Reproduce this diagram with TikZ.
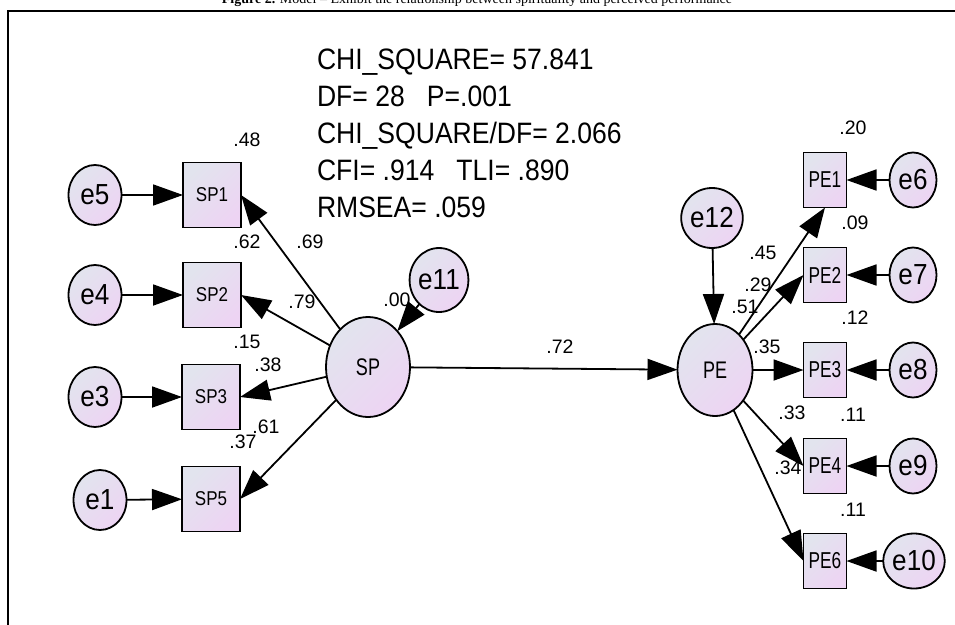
\documentclass[tikz,border=0pt]{standalone}
\usepackage{fontspec}
\setmainfont{Liberation Sans}
\newfontfamily\amos[FakeStretch=0.9]{Liberation Sans}
\newfontfamily\amosb[FakeStretch=0.85]{Liberation Sans}
\newfontfamily\amosn[FakeStretch=0.75]{Liberation Sans}
\newfontfamily\titlefont{Liberation Serif}
\usetikzlibrary{arrows.meta,shapes.geometric}
\definecolor{fillA}{RGB}{226,228,238}
\definecolor{fillB}{RGB}{237,212,243}
\tikzset{
  every node/.style={inner sep=0pt, outer sep=0pt},
  obs/.style={draw, line width=1.8pt, minimum width=58pt, minimum height=65pt,
    top color=fillA, bottom color=fillB, shading angle=45,
    font=\amosb\fontsize{20}{20}\selectfont},
  obsr/.style={obs, minimum width=43pt, minimum height=55pt,
    font=\amosn\fontsize{23}{23}\selectfont},
  err/.style={ellipse, draw, line width=1.8pt, minimum width=53pt, minimum height=60pt,
    top color=fillA, bottom color=fillB, shading angle=45,
    font=\amos\fontsize{29}{29}\selectfont},
  errr/.style={err, minimum width=47pt, minimum height=55pt},
  lat/.style={err, font=\amosn\fontsize{24}{24}\selectfont},
  num/.style={font=\fontsize{19.5}{19.5}\selectfont},
  fit/.style={anchor=base west, font=\amos\fontsize{29.5}{29.5}\selectfont},
  arr/.style={line width=1.8pt, -{Triangle[length=30pt,width=21pt]}},
}
\begin{document}
\begin{tikzpicture}[x=1pt,y=-1pt]
\useasboundingbox (0,0) rectangle (955,624);
\clip (0,0) rectangle (955,624);
\fill[white] (0,0) rectangle (955,624);
% title and frame
\node[anchor=base, font=\titlefont\fontsize{14}{14}\selectfont] (title) at (477,3.5)
  {\textbf{Figure 2.} Model – Exhibit the relationship between spirituality and perceived performance};
\draw[line width=2pt] (7.5,700) -- (7.5,11) -- (970,11);
% fit statistics
\node[fit] (fit1) at (317,69) {CHI\_SQUARE= 57.841};
\node[fit] (fit2) at (317,106) {DF= 28\ \ \ P=.001};
\node[fit] (fit3) at (317,143) {CHI\_SQUARE/DF= 2.066};
\node[fit] (fit4) at (317,180) {CFI= .914\ \ \ TLI= .890};
\node[fit] (fit5) at (317,217) {RMSEA= .059};
% left side
\node[obs] (SP1) at (212,195) {SP1};
\node[obs] (SP2) at (212,295) {SP2};
\node[obs] (SP3) at (211,397) {SP3};
\node[obs] (SP5) at (211,499) {SP5};
\node[err] (e5) at (95,195) {e5};
\node[err] (e4) at (95,295) {e4};
\node[err] (e3) at (95,397) {e3};
\node[err] (e1) at (100,500) {e1};
\node[lat, minimum width=84pt, minimum height=100pt] (SP) at (368,367) {SP};
\node[err, minimum width=52pt, minimum height=64pt] (e11) at (439,280) {e11};
% right side
\node[lat, minimum width=75pt, minimum height=92pt] (PE) at (715,370) {PE};
\node[err, minimum width=55pt, minimum height=60pt] (e12) at (712,218) {e12};
\node[obsr] (PE1) at (825,180) {PE1};
\node[obsr] (PE2) at (825,275) {PE2};
\node[obsr] (PE3) at (825,370) {PE3};
\node[obsr] (PE4) at (825,466) {PE4};
\node[obsr] (PE6) at (825,561) {PE6};
\node[errr] (e6) at (913,180) {e6};
\node[errr] (e7) at (913,275) {e7};
\node[errr] (e8) at (913,370) {e8};
\node[errr] (e9) at (913,466) {e9};
\node[errr] (e10) at (914,561) {e10};
% connectors
\draw[arr] (e5) -- (SP1);
\draw[arr] (e4) -- (SP2);
\draw[arr] (e3) -- (SP3);
\draw[arr] (e1) -- (SP5);
\draw[arr] (SP) -- (SP1.east);
\draw[arr] (SP) -- (SP2.east);
\draw[arr] (SP) -- (SP3.east);
\draw[arr] (SP) -- (SP5.east);
\draw[arr] (e11) -- (SP);
\draw[arr] (SP) -- (PE);
\draw[arr] (e12) -- (PE);
\draw[arr] (PE) -- (PE1.south);
\draw[arr] (PE) -- (PE2.west);
\draw[arr] (PE) -- (PE3.west);
\draw[arr] (PE) -- (PE4.west);
\draw[arr] (PE) -- (PE6.west);
\draw[arr] (e6) -- (PE1);
\draw[arr] (e7) -- (PE2);
\draw[arr] (e8) -- (PE3);
\draw[arr] (e9) -- (PE4);
\draw[arr] (e10) -- (PE6);
% estimates
\node[num] (n48) at (247,140) {.48};
\node[num] (n62) at (247,242) {.62};
\node[num] (n69) at (310,242) {.69};
\node[num] (n79) at (302,302) {.79};
\node[num] (n00) at (397,300) {.00};
\node[num] (n15) at (247,342) {.15};
\node[num] (n38) at (268,365) {.38};
\node[num] (n61) at (266,427) {.61};
\node[num] (n37) at (243,442) {.37};
\node[num] (n72) at (560,347) {.72};
\node[num] (n20) at (853,128) {.20};
\node[num] (n45) at (763,253) {.45};
\node[num] (n09) at (855,223) {.09};
\node[num] (n29) at (758,285) {.29};
\node[num] (n51) at (745,307) {.51};
\node[num] (n12) at (855,318) {.12};
\node[num] (n35) at (767,347) {.35};
\node[num] (n33) at (792,413) {.33};
\node[num] (n11a) at (853,415) {.11};
\node[num] (n34) at (788,468) {.34};
\node[num] (n11b) at (853,510) {.11};
\end{tikzpicture}
\end{document}
